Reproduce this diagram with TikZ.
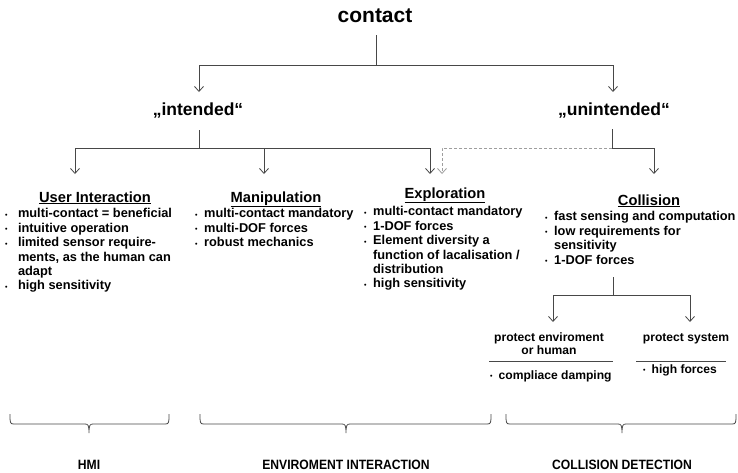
\documentclass[tikz,border=0pt]{standalone}
\usepackage{fontspec}
\setmainfont{Liberation Sans}
\usetikzlibrary{arrows.meta}
\newcommand\dotb{\raisebox{0.5pt}{\fontsize{7}{7}\selectfont •}}
\newcommand\itmA{\makebox[1.0em][l]{\dotb}}
\newcommand\cntA{\hspace*{1.0em}}
\newcommand\itmB{\makebox[0.7em][l]{\dotb}}
\newcommand\cntB{\hspace*{0.7em}}
\newcommand\mybrace[3]{%
  \draw[line] (#1,414) .. controls (#1,423) and (#1,424) .. (#1+4,424) -- (#2-4,424)
    .. controls (#2-1,424) and (#2,425) .. (#2,433)
    .. controls (#2,425) and (#2+1,424) .. (#2+4,424) -- (#3-4,424)
    .. controls (#3,424) and (#3,423) .. (#3,414);}
\begin{document}
\begin{tikzpicture}[x=1pt,y=-1pt,
  line/.style={draw=black!72, line width=0.8pt},
  arr/.style={line, -{Straight Barb[length=5pt,width=9pt]}},
  darr/.style={draw=black!38, line width=0.8pt, dash pattern=on 3pt off 2pt, -{Straight Barb[length=5pt,width=9pt]}},
  body/.style={inner sep=0pt, align=left, anchor=north west, font=\fontsize{12.8}{14.4}\selectfont\bfseries},
  head/.style={inner sep=0pt, anchor=base, font=\fontsize{14.7}{17}\selectfont\bfseries},
  top/.style={inner sep=0pt, anchor=base, font=\fontsize{21}{24}\selectfont\bfseries},
  mid/.style={inner sep=0pt, anchor=base, font=\fontsize{17.5}{20}\selectfont\bfseries},
  subt/.style={inner sep=0pt, align=center, anchor=north, font=\fontsize{12.1}{13.5}\selectfont\bfseries},
  subb/.style={inner sep=0pt, anchor=base west, font=\fontsize{12.1}{13.5}\selectfont\bfseries},
  lab/.style={inner sep=0pt, anchor=base, font=\fontsize{13.5}{16}\selectfont\bfseries}
]
\useasboundingbox (0,0) rectangle (738,472);

% top level
\node[top] (contact) at (375,22) {contact};
\node[mid] (intended) at (198,115) {„intended“};
\node[mid] (unintended) at (614,115) {„unintended“};

\coordinate (c0) at (376,35);
\coordinate (c1) at (376,65);
\coordinate (iArr) at (199,92);
\coordinate (uArr) at (613,92);
\draw[line] (c0) -- (c1);
\draw[arr] (c1) -| (iArr);
\draw[arr] (c1) -| (uArr);

% intended branch
\coordinate (i0) at (199,130);
\coordinate (i1) at (199,148);
\coordinate (uiArr) at (75,174);
\coordinate (maArr) at (264,174);
\coordinate (exArr) at (430,174);
\draw[line] (i0) -- (i1);
\draw[arr] (i1) -| (uiArr);
\draw[arr] (i1) -| (exArr);
\draw[arr] (264,148) -- (maArr);

% unintended branch
\coordinate (u0) at (612,129);
\coordinate (u1) at (612,148);
\coordinate (coArr) at (654,174);
\coordinate (exArr2) at (442,174);
\draw[darr] (u1) -| (exArr2);
\draw[line] (u0) -- (u1);
\draw[arr] (u1) -| (coArr);

% headings
\node[head] (ui) at (95,202) {\underline{User Interaction}};
\node[head] (manip) at (276,202) {\underline{Manipulation}};
\node[head] (expl) at (445,198) {\underline{Exploration}};
\node[head] (coll) at (649,205) {\underline{Collision}};

% lists
\node[body] (uiL) at (5,208.4) {\itmA multi-contact = beneficial\\
\itmA intuitive operation\\
\itmA limited sensor require-\\
\cntA ments, as the human can\\
\cntA adapt\\
\itmA high sensitivity};

\node[body] (maL) at (195,208.4) {\itmB multi-contact mandatory\\
\itmB multi-DOF forces\\
\itmB robust mechanics};

\node[body] (exL) at (364,206.4) {\itmB multi-contact mandatory\\
\itmB 1-DOF forces\\
\itmB Element diversity a\\
\cntB function of lacalisation /\\
\cntB distribution\\
\itmB high sensitivity};

\node[body] (coL) at (545,211.4) {\itmB fast sensing and computation\\
\itmB low requirements for\\
\cntB sensitivity\\
\itmB 1-DOF forces};

% collision subtree
\coordinate (s0) at (613,277);
\coordinate (s1) at (613,295);
\coordinate (peArr) at (553,322);
\coordinate (psArr) at (690,322);
\draw[line] (s0) -- (s1);
\draw[arr] (s1) -| (peArr);
\draw[arr] (s1) -| (psArr);

\node[subt] (penv) at (549,332.3) {protect enviroment\\or human};
\node[subt] (psys) at (686,333.3) {protect system};
\coordinate (pl0) at (489,361);
\coordinate (pl1) at (613,361);
\coordinate (sl0) at (636,361);
\coordinate (sl1) at (726,361);
\draw[line] (pl0) -- (pl1);
\draw[line] (sl0) -- (sl1);
\node[subb] (pcd) at (490,379) {\itmB compliace damping};
\node[subb] (phf) at (643,373) {\itmB high forces};

% braces
\mybrace{10}{89}{169}
\mybrace{200}{346}{491}
\mybrace{506}{622}{736}

\node[lab] (hmi) at (89,469) {\scalebox{0.9}[1]{HMI}};
\node[lab] (envi) at (346,469) {\scalebox{0.9}[1]{ENVIROMENT INTERACTION}};
\node[lab] (colld) at (622,469) {\scalebox{0.9}[1]{COLLISION DETECTION}};
\end{tikzpicture}
\end{document}
